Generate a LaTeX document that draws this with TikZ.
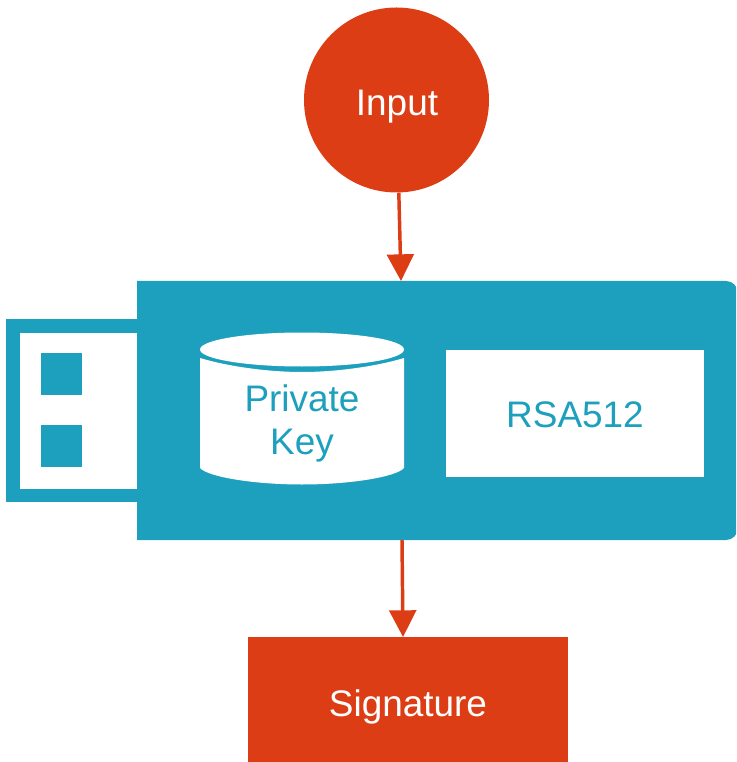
\documentclass[tikz,border=0pt]{standalone}
\usepackage{fontspec}
\setmainfont{Liberation Sans}
\usetikzlibrary{arrows.meta}
\definecolor{org}{RGB}{221,61,21}
\definecolor{tl}{RGB}{29,160,189}
\tikzset{x=0.75pt,y=-0.75pt,
 lab/.style={font=\fontsize{27.7}{32.3}\selectfont,align=center,inner sep=0pt},
 arr/.style={draw=org,line width=2.6pt,-{Triangle[length=20pt,width=20pt]}}}
\begin{document}
\begin{tikzpicture}
\useasboundingbox (0,0) rectangle (736,762);
\path[clip] (0,0) rectangle (736,762);
\node[circle,fill=org,minimum size=138.75pt,inner sep=0pt] (input) at (396.5,100) {};
\node[lab,text=white] (inputlab) at (397,107) {Input};
\node[fill=org,minimum width=240pt,minimum height=93.75pt,inner sep=0pt] (sig) at (408,699.5) {};
\node[lab,text=white] (siglab) at (408,707) {Signature};
% USB body
\fill[tl] (137,281) -- (726,281) .. controls (732.6,281) and (738,286.4) .. (738,293) -- (738,528) .. controls (738,534.6) and (732.6,540) .. (726,540) -- (137,540) -- cycle;
\coordinate (usbtop) at (401,281);
\coordinate (usbbot) at (402,540);
\coordinate (sigtop) at (403,637);
% USB plug
\fill[tl] (6,319) rectangle (137,502);
\fill[white] (20,333) rectangle (137,489);
\fill[tl] (41,353) rectangle (82,395);
\fill[tl] (41,425) rectangle (82,467);
% cylinder
\fill[white] (200,358) .. controls (230,367) and (270,372) .. (302,372) .. controls (334,372) and (374,367) .. (404,358) -- (404,468) .. controls (396,477) and (350,484.5) .. (302,484.5) .. controls (254,484.5) and (208,477) .. (200,468) -- cycle;
\fill[white] (302,349.5) ellipse[x radius=102,y radius=17];
\node[lab,text=tl] (pk) at (302,423) {Private\\Key};
\node[fill=white,minimum width=193.5pt,minimum height=95.25pt,inner sep=0pt] (rsa) at (575,413.5) {};
\node[lab,text=tl] (rsalab) at (575,415) {RSA512};
\draw[arr] (input) -- (usbtop);
\draw[arr] (usbbot) -- (sigtop);
\end{tikzpicture}
\end{document}
